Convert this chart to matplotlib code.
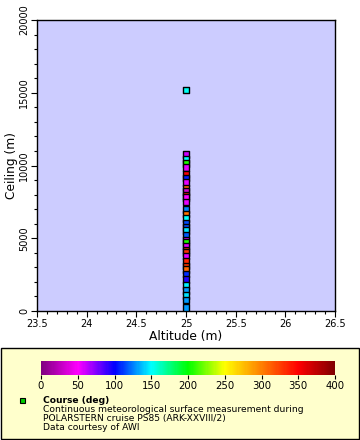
import matplotlib
matplotlib.use("Agg")
import matplotlib.pyplot as plt
import numpy as np
from matplotlib.colors import LinearSegmentedColormap, Normalize
from matplotlib.patches import Rectangle
from matplotlib.ticker import MultipleLocator, FuncFormatter

# Data
altitude = [25.0] * 36
ceiling = [15190, 10740, 10400, 10120, 9850, 9390, 9140, 8820, 8450, 8200, 7950,
           7790, 7490, 6990, 6670, 6370, 6050, 5750, 5550, 5220, 4880, 4720,
           4470, 4190, 4030, 3780, 3420, 3090, 2860, 2540, 2180, 1770, 1400,
           1080, 760, 230]
course = [152, 60, 150, 205, 55, 350, 105, 55, 310, 30, 340,
          50, 55, 125, 305, 150, 115, 115, 145, 118, 55, 205,
          55, 335, 330, 55, 335, 330, 310, 108, 95, 148, 130,
          145, 130, 130]
cbar_ticks = [0, 50, 100, 150, 200, 250, 300, 350, 400]
legend_lines = ["Continuous meteorological surface measurement during",
                "POLARSTERN cruise PS85 (ARK-XXVIII/2)",
                "Data courtesy of AWI"]

cmap = LinearSegmentedColormap.from_list("course", [
    (0.0, "#800080"), (0.125, "#ff00ff"), (0.25, "#0000ff"), (0.375, "#00ffff"),
    (0.5, "#00ff00"), (0.625, "#ffff00"), (0.75, "#ff8000"), (0.875, "#ff0000"),
    (1.0, "#800000")])
norm = Normalize(0, 400)

fig = plt.figure(figsize=(3.6, 4.4), dpi=100)
fig.patch.set_facecolor("white")

# Legend box (behind everything)
fig.patches.append(Rectangle((1/360, 1/440), 358/360, 91/440,
                             transform=fig.transFigure, facecolor="#ffffcc",
                             edgecolor="black", linewidth=1.0, zorder=-10))

ax = fig.add_axes([37/360, 1-311/440, 298/360, 291/440])
ax.set_facecolor("#ccccff")
ax.scatter(altitude, ceiling, c=course, cmap=cmap, norm=norm, marker="s",
           s=24, edgecolors="black", linewidths=1.0, zorder=3)
ax.set_xlim(23.5, 26.5)
ax.set_ylim(0, 20000)
ax.xaxis.set_major_locator(MultipleLocator(0.5))
ax.xaxis.set_minor_locator(MultipleLocator(0.1))
ax.yaxis.set_major_locator(MultipleLocator(5000))
ax.yaxis.set_minor_locator(MultipleLocator(1000))
ax.xaxis.set_major_formatter(FuncFormatter(lambda v, p: f"{v:g}"))
ax.yaxis.set_major_formatter(FuncFormatter(lambda v, p: f"{v:g}"))
ax.tick_params(which="major", length=4, width=0.8, labelsize=7, pad=1.5)
ax.tick_params(which="minor", length=2.5, width=0.8)
ax.tick_params(axis="y", labelrotation=90)
for lab in ax.get_yticklabels():
    lab.set_va("center")
ax.set_xlabel("Altitude (m)", fontsize=8.8, labelpad=1)
ax.set_ylabel("Ceiling (m)", fontsize=8.8, labelpad=1)
for sp in ax.spines.values():
    sp.set_linewidth(1.0)

cax = fig.add_axes([41/360, 1-375/440, 294/360, 14/440])
sm = matplotlib.cm.ScalarMappable(norm=norm, cmap=cmap)
cb = fig.colorbar(sm, cax=cax, orientation="horizontal", ticks=cbar_ticks)
cb.outline.set_visible(False)
cax.tick_params(labelsize=7.3, length=3, pad=1)

fig.patches.append(Rectangle((20/360, 1-403/440), 5/360, 5/440,
                             transform=fig.transFigure, facecolor="#00cc00",
                             edgecolor="black", linewidth=0.8, zorder=2))
fig.text(43/360, 1-400/440, "Course (deg)", fontsize=6.6, fontweight="bold",
         va="center", ha="left")
for i, line in enumerate(legend_lines):
    fig.text(43/360, 1-(409 + 9*i)/440, line, fontsize=6.6, va="center", ha="left")

fig.savefig("out.png", dpi=100)
